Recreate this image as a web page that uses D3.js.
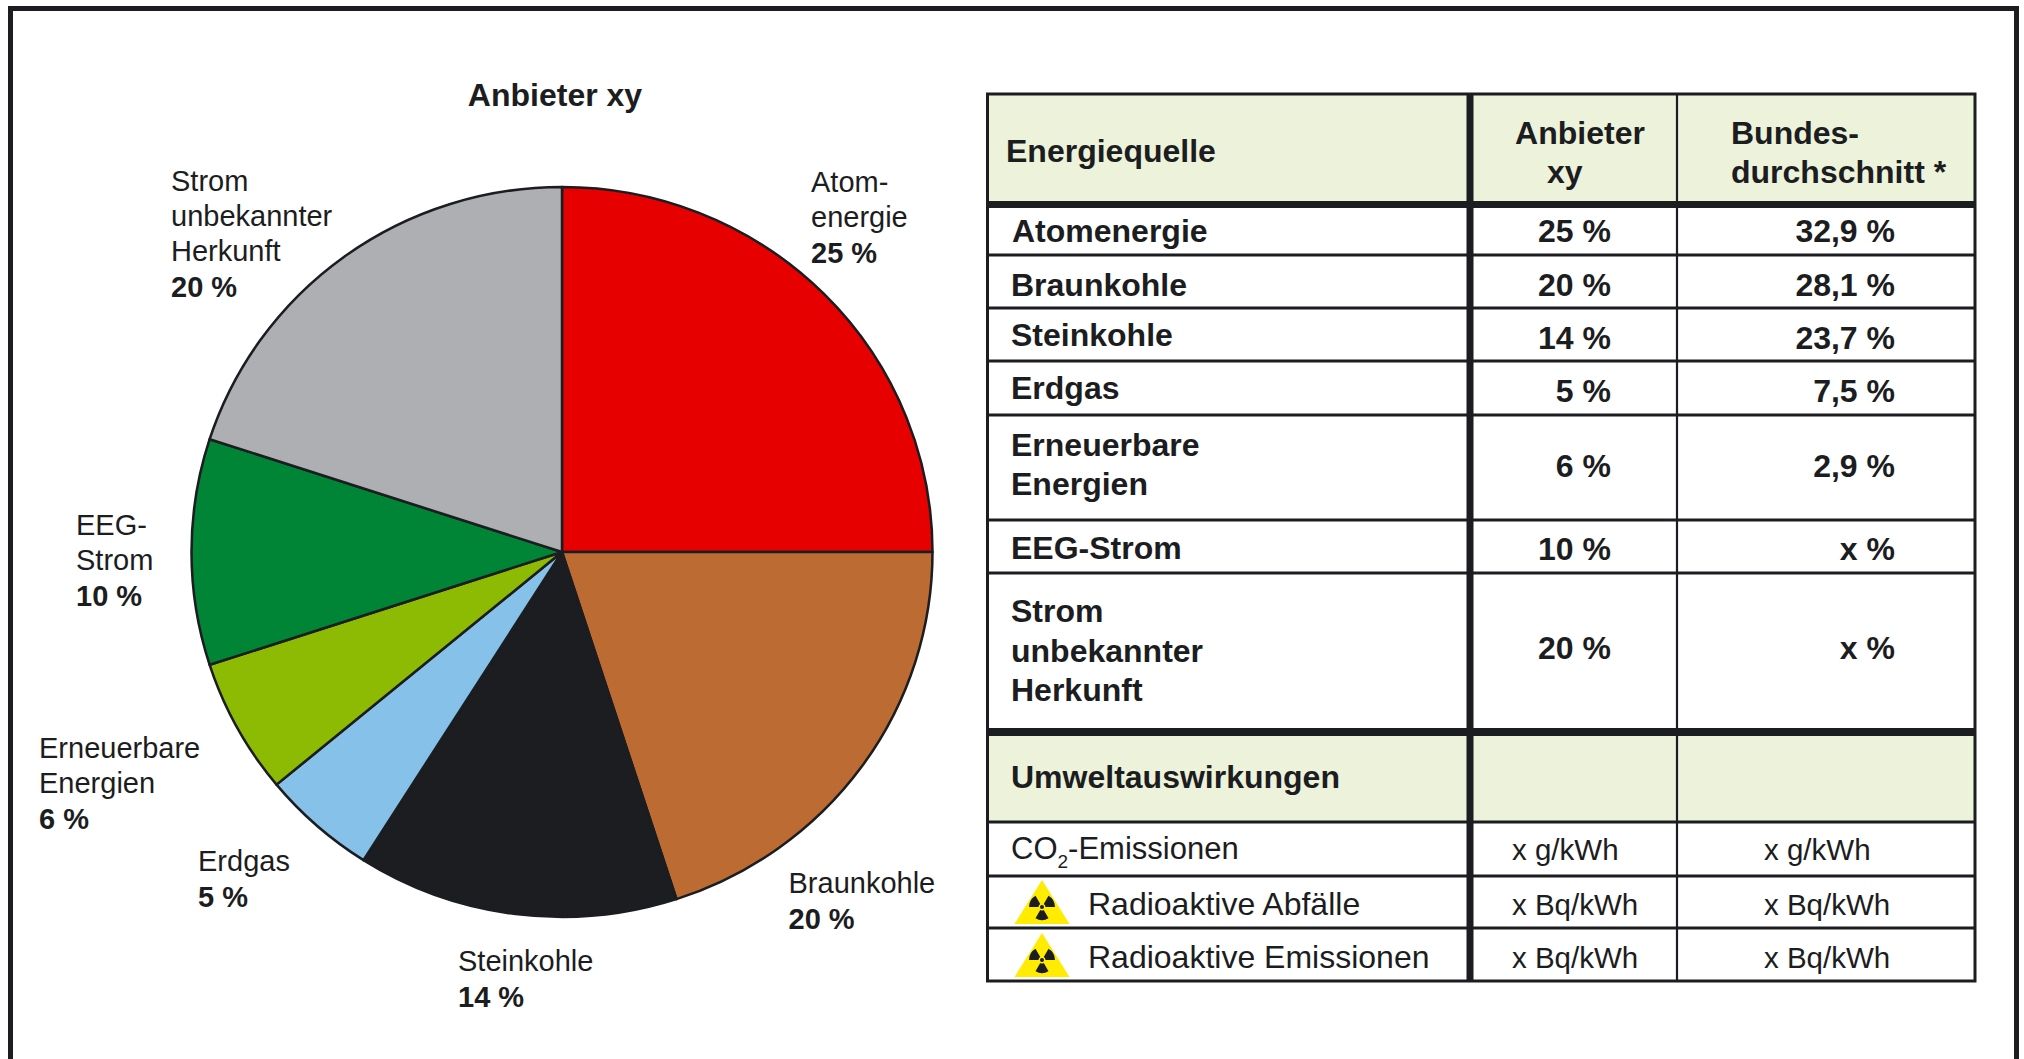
<!DOCTYPE html>
<html>
<head>
<meta charset="utf-8">
<style>
html,body{margin:0;padding:0;background:#fff;}
svg{display:block;}
text{font-family:"Liberation Sans",Arial,sans-serif;fill:#1c1d21;}
.bold{font-weight:bold;}
.pieLabel{font-size:29px;}
.cell{font-size:32px;}
.light{font-size:32px;}
.unit{font-size:29.5px;}
</style>
</head>
<body>
<div id="chart"></div>
<script src="https://d3js.org/d3.v7.min.js"></script>
<script>
// slices, clockwise from the top
var sources = ["Atomenergie","Braunkohle","Steinkohle","Erdgas","Erneuerbare Energien","EEG-Strom","Strom unbekannter Herkunft"];
var anbieter = [25,20,14,5,6,10,20];
var bund = ["32,9 %","28,1 %","23,7 %","7,5 %","2,9 %","x %","x %"];
var colors = ["#e60000","#bc6b33","#1c1d21","#85c1e9","#8dbb03","#008435","#aeafb3"];

var pieNames = [["Atom-","energie"],["Braunkohle"],["Steinkohle"],["Erdgas"],["Erneuerbare","Energien"],["EEG-","Strom"],["Strom","unbekannter","Herkunft"]];
var tableNames = [["Atomenergie"],["Braunkohle"],["Steinkohle"],["Erdgas"],["Erneuerbare","Energien"],["EEG-Strom"],["Strom","unbekannter","Herkunft"]];

var impacts = ["CO2-Emissionen","Radioaktive Abfälle","Radioaktive Emissionen"];
var impactAnbieter = ["x g/kWh","x Bq/kWh","x Bq/kWh"];
var impactBund = ["x g/kWh","x Bq/kWh","x Bq/kWh"];

// layout
var W = 2024, H = 1059;
var cx = 562, cy = 552, rx = 370.5, ry = 365;
var labelPos = [[811,192],[788.5,893],[458,971],[198,871],[39,758],[76,535],[171,191]];
var nameY = [[242],[296],[346],[399],[456,495],[559],[622,662,701]];
var valueY = [242,296,349,402,477,560,659];
var impactY = [859,915,968];
var impactValY = [860,915,968];
var iconTop = [null,880,933];

var tbl = {left:987.5, right:1975, top:94, thick:1470, thin:1677};
var rowLines = [255,308,361,415,520,573,822,876,928];
var shades = [[tbl.top,201],[736,822]];
var colA = 1611, colB = 1895;

var svg = d3.select("#chart").append("svg").attr("width",W).attr("height",H);
var ink = "#1c1d21";

// frame, open at the bottom
svg.append("path")
    .attr("d","M10.5,"+H+"V8.5H2016.5V"+H)
    .attr("fill","none").attr("stroke",ink).attr("stroke-width",5);

// pie
var pie = d3.pie().sort(null).value(function(d){return d;});
var arc = d3.arc().innerRadius(0).outerRadius(ry);

svg.append("g")
    .attr("transform","translate("+cx+","+cy+") scale("+(rx/ry)+",1)")
    .selectAll("path")
    .data(pie(anbieter))
    .join("path")
    .attr("d",arc)
    .attr("fill",function(d,i){return colors[i];})
    .attr("stroke",ink)
    .attr("stroke-width",2.5)
    .attr("stroke-linejoin","round");

svg.append("text").attr("class","bold").attr("x",555).attr("y",106)
    .attr("text-anchor","middle").style("font-size","32px").text("Anbieter xy");

var labels = svg.append("g").selectAll("text")
    .data(sources)
    .join("text")
    .attr("class","pieLabel")
    .attr("x",function(d,i){return labelPos[i][0];})
    .attr("y",function(d,i){return labelPos[i][1];});
labels.each(function(d,i){
    var t = d3.select(this);
    pieNames[i].forEach(function(line,k){
        t.append("tspan").attr("x",labelPos[i][0]).attr("dy",k?35:0).text(line);
    });
    t.append("tspan").attr("class","bold").attr("x",labelPos[i][0]).attr("dy",35.5).text(anbieter[i]+" %");
});

// table shading and rules
var t = svg.append("g");
t.selectAll("rect.shade").data(shades).join("rect").attr("class","shade")
    .attr("x",tbl.left).attr("width",tbl.right-tbl.left)
    .attr("y",function(d){return d[0];}).attr("height",function(d){return d[1]-d[0];})
    .attr("fill","#edf2da");

t.selectAll("line.row").data(rowLines).join("line").attr("class","row")
    .attr("x1",tbl.left).attr("x2",tbl.right)
    .attr("y1",function(d){return d;}).attr("y2",function(d){return d;})
    .attr("stroke",ink).attr("stroke-width",3);

[[201,208],[728,736]].forEach(function(b){
    t.append("rect").attr("x",tbl.left).attr("width",tbl.right-tbl.left)
        .attr("y",b[0]).attr("height",b[1]-b[0]).attr("fill",ink);
});

t.append("rect").attr("x",tbl.left).attr("y",tbl.top)
    .attr("width",tbl.right-tbl.left).attr("height",981-tbl.top)
    .attr("fill","none").attr("stroke",ink).attr("stroke-width",3);
t.append("line").attr("x1",tbl.thick).attr("x2",tbl.thick).attr("y1",tbl.top).attr("y2",981)
    .attr("stroke",ink).attr("stroke-width",7);
t.append("line").attr("x1",tbl.thin).attr("x2",tbl.thin).attr("y1",tbl.top).attr("y2",981)
    .attr("stroke",ink).attr("stroke-width",2.2);

function cell(x,y,txt,cls,anchor){
    return t.append("text").attr("class",cls).attr("x",x).attr("y",y)
        .attr("text-anchor",anchor||"start").text(txt);
}

// header
cell(1006,162,"Energiequelle","cell bold");
cell(1580,144,"Anbieter","cell bold","middle");
cell(1547,183,"xy","cell bold");
cell(1731,144,"Bundes-","cell bold");
cell(1731,183,"durchschnitt *","cell bold");
cell(1011,788,"Umweltauswirkungen","cell bold");

// energy rows
sources.forEach(function(s,i){
    tableNames[i].forEach(function(line,k){
        cell(i===0?1012:1011,nameY[i][k],line,"cell bold");
    });
    cell(colA,valueY[i],anbieter[i]+" %","cell bold","end");
    cell(colB,valueY[i],bund[i],"cell bold","end");
});

// impact rows
impacts.forEach(function(s,i){
    if(i===0){
        var co = cell(1011,impactY[i],"","light").style("font-size","31px");
        co.append("tspan").text("CO");
        co.append("tspan").attr("dy",9).style("font-size","19px").text("2");
        co.append("tspan").attr("dy",-9).text("-Emissionen");
    } else {
        cell(1088,impactY[i],s,"light");
        radiation(iconTop[i]);
    }
    cell(1512,impactValY[i],impactAnbieter[i],"unit");
    cell(1764,impactValY[i],impactBund[i],"unit");
});

// warning triangle with trefoil
function radiation(top){
    var g = t.append("g").attr("transform","translate(1042,"+top+")");
    g.append("path").attr("d","M0,0L27.5,44H-27.5Z").attr("fill","#ffec00");
    var blade = d3.arc().innerRadius(3.5).outerRadius(13);
    var hub = g.append("g").attr("transform","translate(0,27)");
    [-60,60,180].forEach(function(a){
        var r = a*Math.PI/180;
        hub.append("path").attr("fill",ink)
            .attr("d",blade({startAngle:r-Math.PI/6,endAngle:r+Math.PI/6}));
    });
    hub.append("circle").attr("r",2).attr("fill",ink);
}
</script>
</body>
</html>
